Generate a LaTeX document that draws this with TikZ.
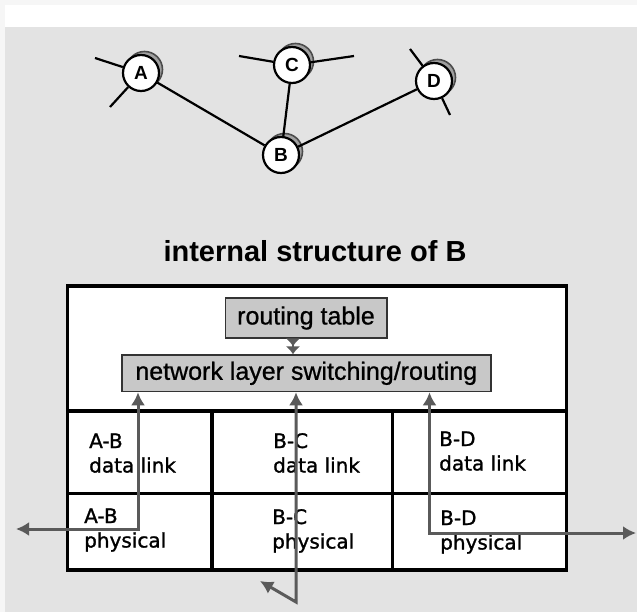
\documentclass[tikz,border=0pt]{standalone}
\usepackage{fontspec}
\setmainfont{Liberation Sans}
\newfontfamily\cellfont[FakeBold=1.2]{DejaVu Sans}
\newfontfamily\boxfont[FakeBold=0.8]{Liberation Sans}
\usetikzlibrary{arrows.meta,shadows}
\definecolor{bggray}{HTML}{E3E3E3}
\definecolor{edgewhite}{HTML}{F6F6F6}
\definecolor{boxgray}{HTML}{C8C8C8}
\definecolor{arrgray}{HTML}{5A5A5A}
\definecolor{shgray}{HTML}{A0A0A0}
\tikzset{
  router/.style={circle, draw=black, line width=2.2pt, fill=white, minimum size=36pt, inner sep=0pt,
    font=\bfseries\fontsize{19}{20}\selectfont,
    general shadow={shadow xshift=3.5pt, shadow yshift=3.5pt, fill=shgray, draw=black!70, line width=1.6pt}},
  link/.style={draw=black, line width=2.2pt},
  graybox/.style={draw=black!80, line width=1.5pt, fill=boxgray, inner sep=0pt, font=\boxfont\fontsize{25}{26}\selectfont},
  cell/.style={inner sep=0pt, align=left, font=\cellfont\fontsize{20}{24.5}\selectfont},
  frame/.style={draw=black, line width=3.2pt},
  twoway/.style={draw=arrgray, line width=3pt, arrows={Latex[length=13pt,width=14pt]-Latex[length=13pt,width=14pt]}},
  feed/.style={draw=arrgray, line width=2.5pt, arrows={-Latex[length=8pt,width=15pt]Latex[length=8pt,width=15pt]}}
}
\begin{document}
\begin{tikzpicture}[x=1pt,y=-1pt]
\useasboundingbox (0,0) rectangle (637,612);
\fill[edgewhite] (0,0) rectangle (637,612);
\fill[white] (5,5) rectangle (637,27);
\fill[bggray] (5,27) rectangle (637,612);

% routers
\node[router] (A) at (141,73) {A};
\node[router] (C) at (292,65) {C};
\node[router] (D) at (434,81) {D};
\node[router] (B) at (281,155) {B};

\coordinate (a1) at (95,58);
\coordinate (a2) at (110,107);
\coordinate (c1) at (239,56);
\coordinate (c2) at (354,56);
\coordinate (d1) at (410,49);
\coordinate (d2) at (450,115);

\draw[link] (a1) -- (A);
\draw[link] (a2) -- (A);
\draw[link] (c1) -- (C);
\draw[link] (c2) -- (C);
\draw[link] (d1) -- (D);
\draw[link] (d2) -- (D);
\draw[link] (A) -- (B);
\draw[link] (C) -- (B);
\draw[link] (D) -- (B);

% title
\node (title) at (315,251) {\fontsize{29}{30}\selectfont\bfseries internal structure of B};

% frame of B
\node[draw=none, fill=white, minimum width=499pt, minimum height=284pt, inner sep=0pt] (frameB) at (317,428) {};
\draw[frame] (67.5,286) rectangle (566.5,570);
\draw[frame] (67.5,411) -- (566.5,411);
\draw[frame] (67.5,493.5) -- (566.5,493.5);
\draw[frame] (212,411) -- (212,570);
\draw[frame] (392.5,411) -- (392.5,570);

% gray boxes
\node[graybox, minimum width=161.5pt, minimum height=40pt] (rt) at (306,318) {routing table};
\node[graybox, minimum width=369pt, minimum height=36.5pt] (net) at (306.3,373.3) {network layer switching/routing};

% cell labels (base = baseline of last line)
\node[cell, anchor=base west] (abdl) at (89,472.5) {A-B\\data link};
\node[cell, anchor=base west] (bcdl) at (273,472.5) {B-C\\data link};
\node[cell, anchor=base west] (bddl) at (439,470.5) {B-D\\data link};
\node[cell, anchor=base west] (abph) at (84,547.5) {A-B\\physical};
\node[cell, anchor=base west] (bcph) at (272,548.5) {B-C\\physical};
\node[cell, anchor=base west] (bdph) at (440,549.5) {B-D\\physical};

% arrows
\coordinate (fx) at (293,0);
\draw[feed] (rt.south -| fx) -- (net.north -| fx);

\coordinate (x1) at (138,0);
\coordinate (x2) at (296,0);
\coordinate (x3) at (429.5,0);
\coordinate (l1) at (16,529);
\coordinate (m0) at (260,581);
\coordinate (m1) at (296,602);
\coordinate (r1) at (636,533);

\draw[twoway] (l1) -| (net.south -| x1);
\draw[twoway] (m0) -- (m1) -- (net.south -| x2);
\draw[twoway] (r1) -| (net.south -| x3);
\end{tikzpicture}
\end{document}
